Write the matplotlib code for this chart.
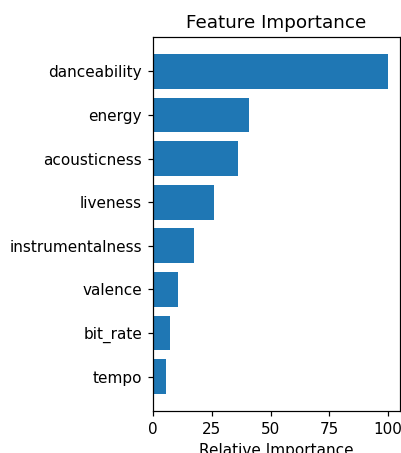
import numpy as np
import matplotlib.pyplot as plt

# relative feature importance, scaled so the top feature is 100
features = ['danceability', 'energy', 'acousticness', 'liveness',
            'instrumentalness', 'valence', 'bit_rate', 'tempo']
importance = [100, 41, 36.2, 26, 17.6, 10.5, 7.4, 5.5]

sorted_idx = np.argsort(importance)
pos = np.arange(len(sorted_idx))

dpi = 110
fig = plt.figure(figsize=(401 / dpi, 453 / dpi), dpi=dpi)
ax = fig.add_axes([0.381, 0.0927, 0.6165, 0.8256])
ax.barh(pos, np.array(importance)[sorted_idx], align='center')
ax.set_yticks(pos)
ax.set_yticklabels(np.array(features)[sorted_idx])
ax.set_xlabel('Relative Importance')
ax.set_title('Feature Importance')

fig.savefig('out.png', dpi=dpi)
